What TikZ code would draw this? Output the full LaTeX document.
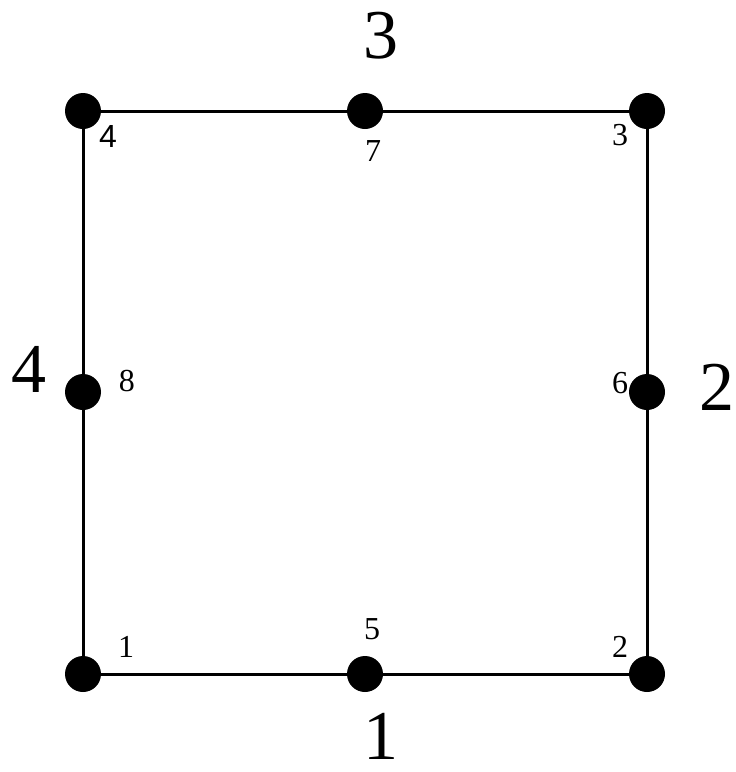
\documentclass[tikz,border=0pt]{standalone}
\usepackage{fontspec}
\setmainfont{Liberation Serif}
\newfontfamily\sanslabel{Liberation Sans}
\usetikzlibrary{positioning}

\begin{document}
\begin{tikzpicture}[x=0.5pt,y=-0.5pt,
  dotnode/.style={circle,fill=black,minimum size=18pt,inner sep=0pt},
  locnum/.style={font=\fontsize{16}{16}\selectfont,inner sep=0pt},
  sidenum/.style={font=\fontsize{35}{35}\selectfont,inner sep=0pt}]
  \useasboundingbox (0,0) rectangle (735,772);
  % column and row centres
  \def\xl{83}\def\xm{365}\def\xr{647}
  \def\yt{111}\def\ym{392}\def\yb{674}
  % element nodes, corners first then midsides
  \node[dotnode] (n1) at (\xl,\yb) {};
  \node[dotnode] (n2) at (\xr,\yb) {};
  \node[dotnode] (n3) at (\xr,\yt) {};
  \node[dotnode] (n4) at (\xl,\yt) {};
  \node[dotnode] (n5) at (\xm,\yb) {};
  \node[dotnode] (n6) at (\xr,\ym) {};
  \node[dotnode] (n7) at (\xm,\yt) {};
  \node[dotnode] (n8) at (\xl,\ym) {};
  % element boundary
  \draw[line width=1.5pt] (n1) -- (n5) -- (n2) -- (n6) -- (n3) -- (n7) -- (n4) -- (n8) -- (n1);
  % local node numbers
  \node[locnum] (l1) at (126,647) {1};
  \node[locnum] (l2) at (620,647) {2};
  \node[locnum] (l3) at (620,135) {3};
  \node[locnum,font=\fontsize{16}{16}\sanslabel] (l4) at (108,136) {4};
  \node[locnum] (l5) at (372,629) {5};
  \node[locnum] (l6) at (620,383) {6};
  \node[locnum] (l7) at (373,151) {7};
  \node[locnum] (l8) at (127,381) {8};
  % side numbers
  \node[sidenum] (s1) at (381,736) {1};
  \node[sidenum] (s2) at (717,387) {2};
  \node[sidenum] (s3) at (381,36) {3};
  \node[sidenum] (s4) at (29,369) {4};
\end{tikzpicture}
\end{document}
